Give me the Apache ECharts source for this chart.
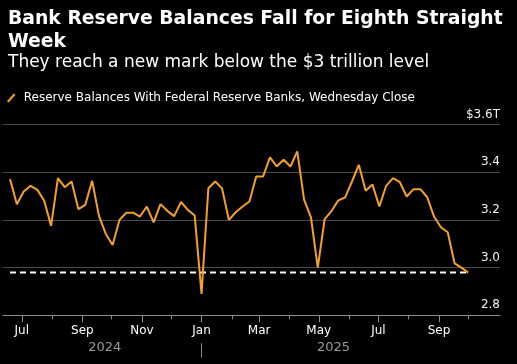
<!DOCTYPE html>
<html><head><meta charset="utf-8">
<script src="https://cdn.jsdelivr.net/npm/echarts@6/dist/echarts.min.js"></script>
<style>html,body{margin:0;padding:0;background:#000;}#c{width:517px;height:364px;}</style>
</head><body><div id="c"></div>
<script>
const titleText = 'Bank Reserve Balances Fall for Eighth Straight\nWeek';
const subtitleText = 'They reach a new mark below the $3 trillion level';
const seriesName = 'Reserve Balances With Federal Reserve Banks, Wednesday Close';
// weekly Wednesday closes starting 2024-06-19 (trillions of dollars)
const firstWeek = [2024, 5, 19];
const reserves = [
  3.371, 3.266, 3.319, 3.343, 3.326, 3.280, 3.175, 3.375, 3.337, 3.361,
  3.245, 3.263, 3.364, 3.217, 3.141, 3.095, 3.200, 3.230, 3.230, 3.214,
  3.256, 3.190, 3.266, 3.238, 3.216, 3.275, 3.242, 3.218, 2.890, 3.333,
  3.361, 3.332, 3.200, 3.232, 3.256, 3.277, 3.382, 3.382, 3.462, 3.424,
  3.452, 3.424, 3.487, 3.284, 3.211, 3.000, 3.203, 3.237, 3.282, 3.294,
  3.361, 3.431, 3.322, 3.348, 3.256, 3.343, 3.375, 3.358, 3.298, 3.329,
  3.329, 3.295, 3.214, 3.169, 3.148, 3.018, 3.000, 2.979
];
const yMin = 2.8, yMax = 3.6, yStep = 0.2;
const monthNames = ['Jan','Feb','Mar','Apr','May','Jun','Jul','Aug','Sep','Oct','Nov','Dec'];
const majorMonths = [[2024,6],[2024,8],[2024,10],[2025,0],[2025,2],[2025,4],[2025,6],[2025,8]];
const minorMonths = [[2024,7],[2024,9],[2024,11],[2025,1],[2025,3],[2025,5],[2025,7],[2025,9]];
const yearLabelDates = [[2024,8,24],[2025,4,16]];
const yearBreak = [2025,0,1];
const axisStart = [2024,5,11,19];
const axisEnd = [2025,10,2,12];

const ts = a => new Date(a[0], a[1], a[2] || 1, a[3] || 0).getTime();
const dates = reserves.map((v, i) => new Date(firstWeek[0], firstWeek[1], firstWeek[2] + 7 * i).getTime());
const lineData = reserves.map((v, i) => [dates[i], v]);
const lastVal = reserves[reserves.length - 1];
const refData = [[dates[0], lastVal], [dates[dates.length - 1], lastVal]];
const xMin = ts(axisStart), xMax = ts(axisEnd);

const FONT = 'DejaVu Sans';
const chart = echarts.init(document.getElementById('c'), null, {renderer: 'canvas'});
chart.setOption({
  backgroundColor: '#000',
  animation: false,
  title: [
    {text: titleText, left: 3, top: 3,
     textStyle: {color: '#fff', fontFamily: FONT, fontWeight: 'bold', fontSize: 18.8, lineHeight: 23}},
    {text: subtitleText, left: 3, top: 49,
     textStyle: {color: '#fff', fontFamily: FONT, fontWeight: 'normal', fontSize: 17}}
  ],
  legend: {
    data: [{name: seriesName, icon: 'path://M0,9 L8,0 L10,1.6 L2,10.6 Z'}],
    left: 2, top: 87, itemWidth: 9, itemHeight: 9,
    textStyle: {color: '#fff', fontFamily: FONT, fontSize: 12, padding: [0,0,0,3]},
    itemStyle: {color: '#F5A029'}
  },
  grid: {left: 3, right: 17, top: 124.5, bottom: 48.7},
  xAxis: [
    {type: 'value', min: xMin, max: xMax,
     axisLine: {show: true, lineStyle: {color: '#8c8c8c', width: 1}},
     axisTick: {show: true, customValues: majorMonths.map(ts), length: 7, lineStyle: {color: '#8c8c8c'}},
     axisLabel: {customValues: majorMonths.map(ts), formatter: v => monthNames[new Date(v).getMonth()],
                 color: '#fff', fontFamily: FONT, fontSize: 12, margin: 10},
     splitLine: {show: false}},
    {type: 'value', min: xMin, max: xMax, position: 'bottom',
     axisLine: {show: false},
     axisTick: {show: true, customValues: minorMonths.map(ts), length: 4, lineStyle: {color: '#8c8c8c'}},
     axisLabel: {show: false}, splitLine: {show: false}},
    {type: 'value', min: xMin, max: xMax, position: 'bottom', offset: 28,
     axisLine: {show: false},
     axisTick: {show: true, customValues: [ts(yearBreak)], length: 14, lineStyle: {color: '#8c8c8c'}},
     axisLabel: {customValues: yearLabelDates.map(ts), formatter: v => String(new Date(v).getFullYear()),
                 color: '#9a9a9a', fontFamily: FONT, fontSize: 13, margin: -2},
     splitLine: {show: false}}
  ],
  yAxis: {
    type: 'value', position: 'right', min: yMin, max: yMax, interval: yStep,
    axisLine: {show: false}, axisTick: {show: false},
    splitLine: {show: true, lineStyle: {color: '#4a4a4a', width: 1}},
    axisLabel: {inside: true, margin: 0, verticalAlign: 'bottom', padding: [0,0,4,0],
                color: '#f0f0f0', fontFamily: FONT, fontSize: 12,
                formatter: v => Math.abs(v - yMax) < 1e-9 ? '$' + v.toFixed(1) + 'T' : v.toFixed(1)}
  },
  series: [
    {name: seriesName, type: 'line', data: lineData, showSymbol: false, symbol: 'none',
     lineStyle: {color: '#F5A029', width: 2}, itemStyle: {color: '#F5A029'}, z: 3},
    {name: 'ref', type: 'line', data: refData, showSymbol: false, symbol: 'none',
     lineStyle: {color: '#fff', width: 2, type: [6, 4]}, z: 2, silent: true}
  ]
});
</script></body></html>
